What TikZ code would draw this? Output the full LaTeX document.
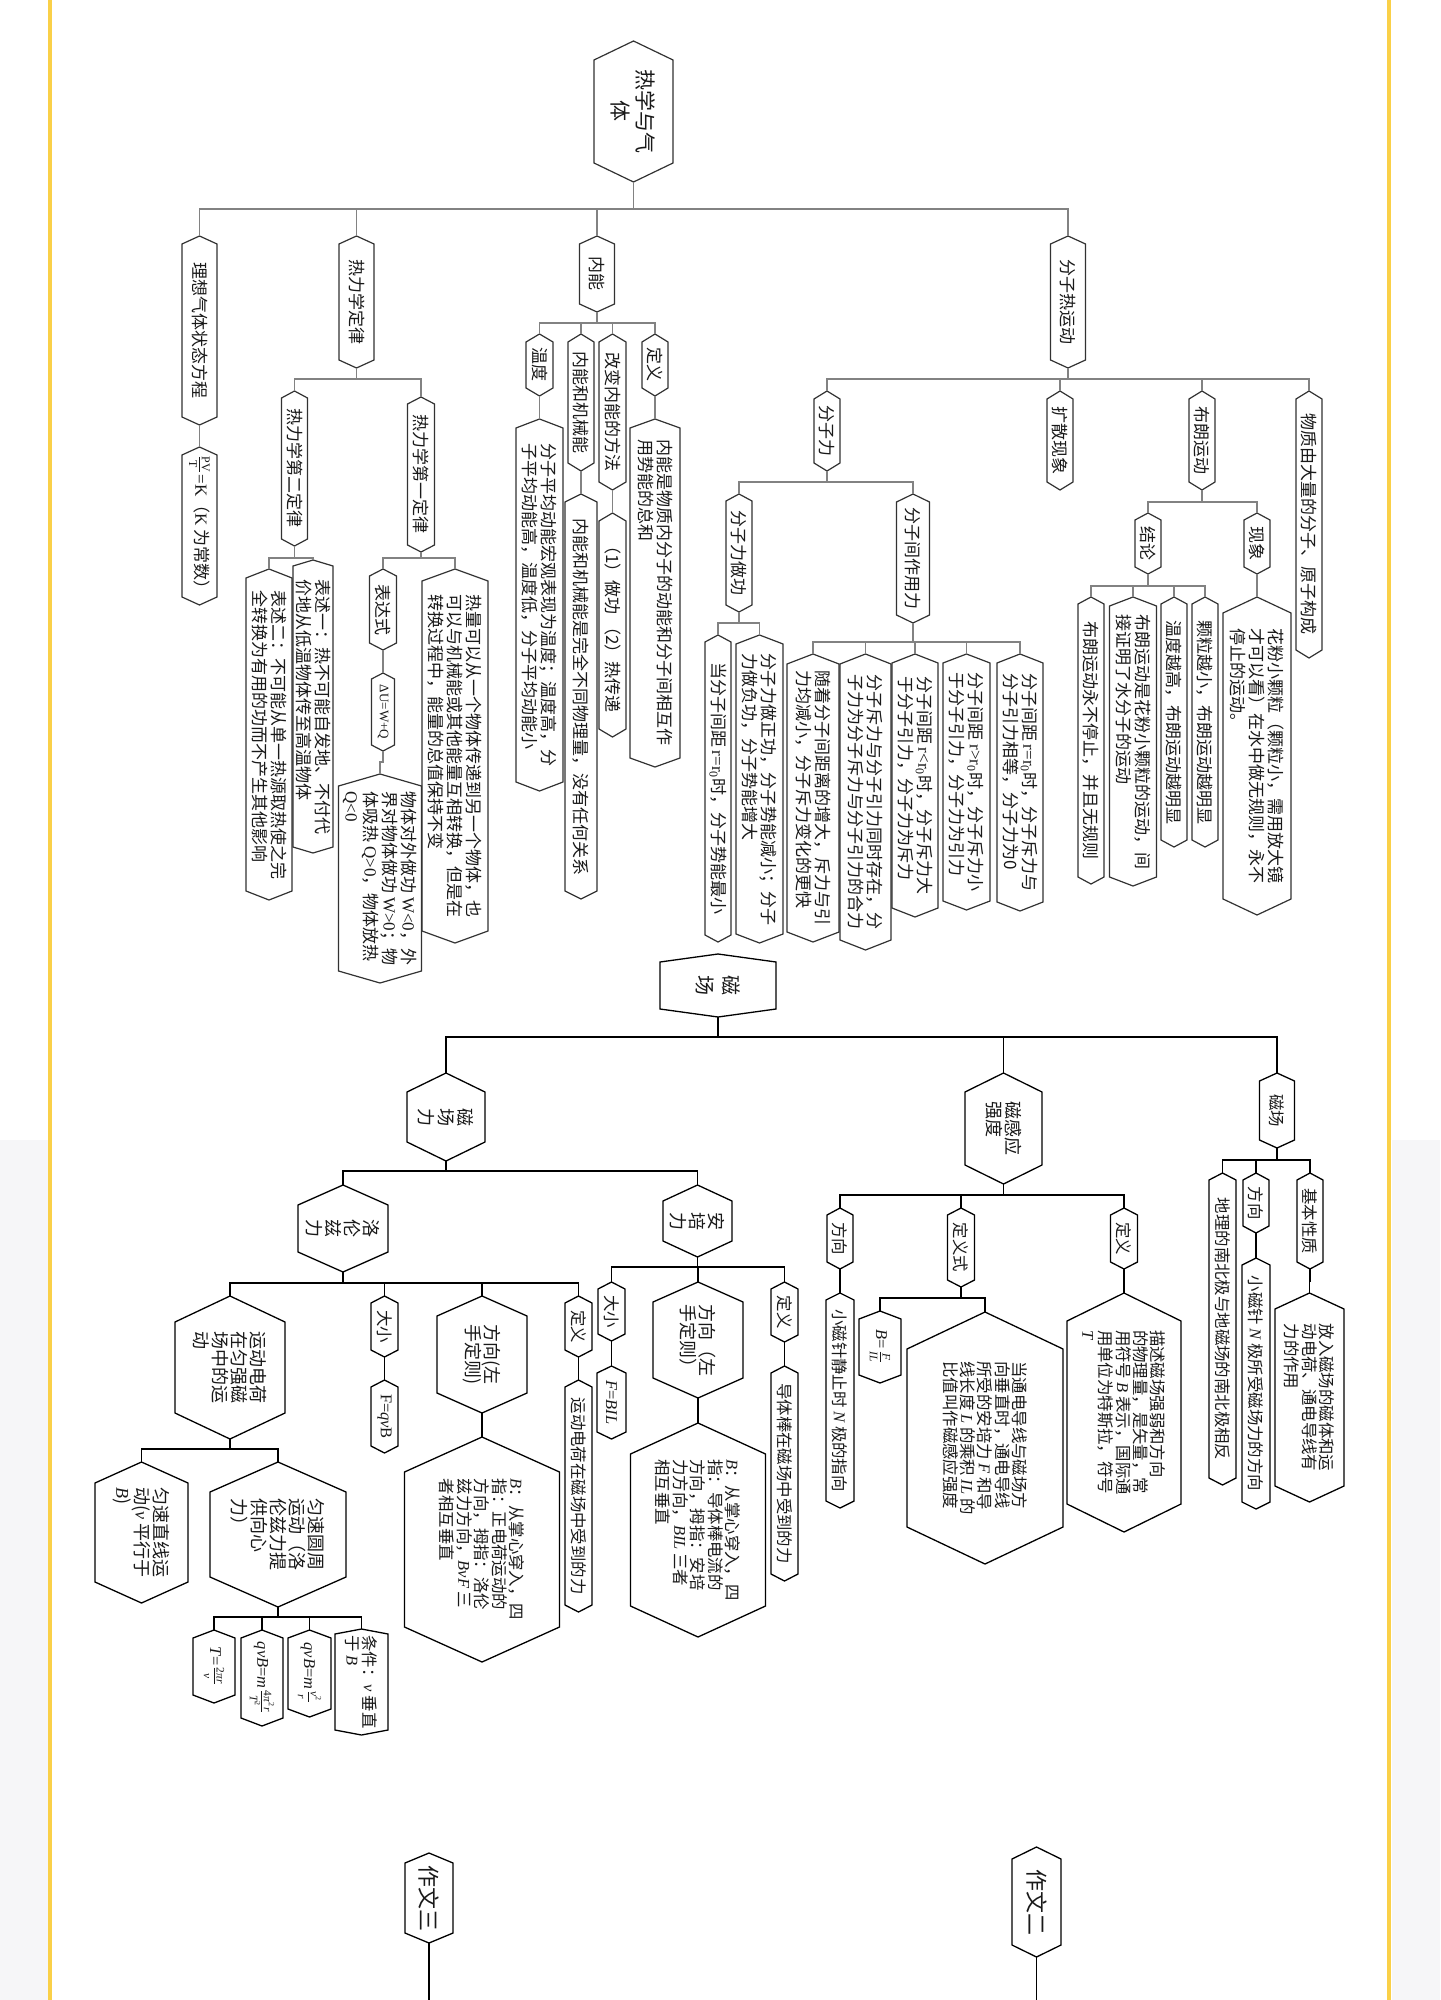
\documentclass[tikz,border=0pt]{standalone}
\usepackage{amsmath}
\usepackage[no-math]{fontspec}
\setmainfont{Noto Sans CJK SC}
\newfontfamily\tm{Liberation Serif}
\newcommand\vi[1]{{\tm\itshape #1}}
\newcommand\vr[1]{{\tm #1}}
\usetikzlibrary{calc}
\definecolor{ylw}{RGB}{250,208,72}
\definecolor{sidegrey}{RGB}{246,246,248}
\definecolor{thline}{RGB}{130,130,130}
\definecolor{thhex}{RGB}{50,50,50}
\definecolor{txtc}{RGB}{25,25,25}
\tikzset{
  hexbox/.style={draw=none,inner sep=0pt,outer sep=0pt},
  txt/.style={rotate=-90,align=left,inner sep=0pt,text=txtc},
  thermtxt/.style={font=\fontsize{8.5}{9.5}\selectfont},
  smalltxt/.style={font=\tm\fontsize{6.5}{7}\selectfont},
  roottxt/.style={font=\fontsize{10.5}{12.5}\selectfont,align=center},
  magtxt/.style={font=\fontsize{8.2}{8.7}\selectfont},
  bigtxt/.style={font=\fontsize{9}{9.6}\selectfont},
  cctxt/.style={font=\fontsize{10}{13}\selectfont},
  zwtxt/.style={font=\fontsize{11}{12}\selectfont},
  hexline/.style={draw=thhex,line width=0.6pt,line join=miter},
  conn/.style={draw=thline,line width=0.55pt}
}
% name, cx, ytop, ybot, halfwidth, tip, textstyle, text
\newcommand\hexn[8]{%
  \node[hexbox,minimum width=#5 pt,minimum height={(#4-#3)*0.5pt}] (#1) at (#2,{(#3+#4)/2}) {};
  \draw[hexline] (#1.north) -- ($(#1.north east)+(0,#6)$) -- ($(#1.south east)+(0,-#6)$) -- (#1.south) -- ($(#1.south west)+(0,-#6)$) -- ($(#1.north west)+(0,#6)$) -- cycle;
  \node[txt,#7] (#1-t) at (#1.center) {#8};}
% parent, bus y, children
\newcommand\tree[3]{%
  \coordinate (#1bus) at (0,#2);
  \foreach \c in {#3}{\draw[conn] (#1.south) -- (#1.south |- #1bus) -| (\c.north);}}
\begin{document}
\begin{tikzpicture}[x=0.5pt,y=-0.5pt]
\useasboundingbox (0,0) rectangle (1440,2000);
\fill[white] (0,0) rectangle (1440,2000);
\fill[sidegrey] (0,1140) rectangle (48,2000);
\fill[sidegrey] (1392,1140) rectangle (1440,2000);
\fill[ylw] (48,0) rectangle (52,2000);
\fill[ylw] (1387,0) rectangle (1391,2000);

% ================= thermal part =================
\hexn{root}{633.5}{41}{182}{39.5}{19}{roottxt}{热学与气\\体}
\hexn{lx}{199.5}{236}{425}{17.5}{8}{thermtxt}{理想气体状态方程}
\hexn{pv}{199.5}{447}{605}{17.5}{8}{thermtxt}{$\frac{\text{\vr{PV}}}{\text{\vr{T}}}$\vr{=K}（\vr{K} 为常数）}
\hexn{rl}{356.5}{236}{368}{17.5}{8}{thermtxt}{热力学定律}
\hexn{nn}{597}{236}{312}{17.5}{8}{thermtxt}{内能}
\hexn{fz}{1068}{236}{368}{17.5}{8}{thermtxt}{分子热运动}

\hexn{rtwo}{294.5}{391}{546}{13}{7}{thermtxt}{热力学第二定律}
\hexn{rone}{421}{397}{552}{13.5}{7}{thermtxt}{热力学第一定律}
\hexn{bstwo}{269}{569}{900}{23}{9}{thermtxt}{表述二：不可能从单一热源取热使之完\\全转换为有用的功而不产生其他影响}
\hexn{bsone}{313}{560}{853}{20}{6}{thermtxt}{表述一：热不可能自发地、不付代\\价地从低温物体传至高温物体}
\hexn{bds}{383}{569}{650}{13.5}{7}{thermtxt}{表达式}
\hexn{du}{383}{673}{751}{11.5}{6}{smalltxt}{ΔU=W+Q}
\hexn{wq}{380}{774}{983}{41.5}{12}{thermtxt}{物体对外做功 \vr{W<0}，外\\界对物体做功 \vr{W>0}；物\\体吸热 \vr{Q>0}，物体放热\\\vr{Q<0}}
\hexn{rlone}{455}{569}{943}{33}{12}{thermtxt}{热量可以从一个物体传递到另一个物体，也\\可以与机械能或其他能量互相转换，但是在\\转换过程中，能量的总值保持不变}

\hexn{wd}{539.5}{334}{396}{13.5}{8}{thermtxt}{温度}
\hexn{jx}{581}{334}{471}{13}{8}{thermtxt}{内能和机械能}
\hexn{gb}{612.5}{334}{490}{13.5}{8}{thermtxt}{改变内能的方法}
\hexn{dy}{655}{334}{396}{13}{8}{thermtxt}{定义}
\hexn{wdt}{539.5}{419}{791}{23.5}{9}{thermtxt}{分子平均动能宏观表现为温度；温度高，分\\子平均动能高，温度低，分子平均动能小}
\hexn{jxt}{581}{494}{899}{16}{8}{thermtxt}{内能和机械能是完全不同物理量，没有任何关系}
\hexn{gbt}{612.5}{513}{737}{13.5}{8}{thermtxt}{（1）做功 （2）热传递}
\hexn{dyt}{655}{419}{767}{25}{9}{thermtxt}{内能是物质内分子的动能和分子间相互作\\用势能的总和}

\hexn{fzl}{827}{391}{471}{13}{8}{thermtxt}{分子力}
\hexn{ks}{1060}{391}{490}{13}{8}{thermtxt}{扩散现象}
\hexn{bl}{1202}{391}{490}{13}{8}{thermtxt}{布朗运动}
\hexn{wz}{1309}{391}{658}{13}{8}{thermtxt}{物质由大量的分子、原子构成}

\hexn{jl}{1148}{513}{574}{13}{7}{thermtxt}{结论}
\hexn{xx}{1257}{513}{574}{13}{7}{thermtxt}{现象}
\hexn{xxt}{1257}{597}{915}{34}{16}{thermtxt}{花粉小颗粒（颗粒小，需用放大镜\\才可以看）在水中做无规则，永不\\停止的运动。}
\hexn{jlone}{1091}{597}{884}{13}{7}{thermtxt}{布朗运动永不停止，并且无规则}
\hexn{jltwo}{1133}{597}{886}{23.5}{9}{thermtxt}{布朗运动是花粉小颗粒的运动，间\\接证明了水分子的运动}
\hexn{jlthree}{1174}{597}{847}{13}{7}{thermtxt}{温度越高，布朗运动越明显}
\hexn{jlfour}{1205}{597}{847}{13}{7}{thermtxt}{颗粒越小，布朗运动越明显}

\hexn{zg}{739}{494}{612}{13}{7}{thermtxt}{分子力做功}
\hexn{zy}{913}{494}{623}{16.5}{8}{thermtxt}{分子间作用力}
\hexn{zgone}{718}{635}{942}{13}{7}{thermtxt}{当分子间距 \vr{r=r\textsubscript{0}}时，分子势能最小}
\hexn{zgtwo}{759.5}{635}{943}{23.5}{9}{thermtxt}{分子力做正功，分子势能减小；分子\\力做负功，分子势能增大}
\hexn{zyone}{813}{654}{942}{26}{10}{thermtxt}{随着分子间距离的增大，斥力与引\\力均减小，分子斥力变化的更快}
\hexn{zytwo}{865.5}{654}{950}{25.5}{10}{thermtxt}{分子斥力与分子引力同时存在，分\\子力为分子斥力与分子引力的合力}
\hexn{zythree}{915}{654}{917}{23}{9}{thermtxt}{分子间距 \vr{r<r\textsubscript{0}}时，分子斥力大\\于分子引力，分子力为斥力}
\hexn{zyfour}{966.5}{654}{910}{23.5}{9}{thermtxt}{分子间距 \vr{r>r\textsubscript{0}}时，分子斥力小\\于分子引力，分子力为引力}
\hexn{zyfive}{1020}{654}{911}{23}{9}{thermtxt}{分子间距 \vr{r=r\textsubscript{0}}时，分子斥力与\\分子引力相等，分子力为0}

\tree{root}{209}{lx,rl,nn,fz}
\tree{lx}{436}{pv}
\tree{rl}{379}{rtwo,rone}
\tree{rtwo}{558}{bstwo,bsone}
\tree{rone}{558}{bds,rlone}
\tree{bds}{661}{du}
\tree{du}{762}{wq}
\tree{nn}{323}{wd,jx,gb,dy}
\tree{wd}{407}{wdt}
\tree{jx}{483}{jxt}
\tree{gb}{501}{gbt}
\tree{dy}{407}{dyt}
\tree{fz}{379}{fzl,ks,bl,wz}
\tree{bl}{502}{jl,xx}
\tree{xx}{586}{xxt}
\tree{jl}{586}{jlone,jltwo,jlthree,jlfour}
\tree{fzl}{482}{zg,zy}
\tree{zg}{623}{zgone,zgtwo}
\tree{zy}{642}{zyone,zytwo,zythree,zyfour,zyfive}

% ================= magnetic part =================
\tikzset{hexline/.style={draw=black,line width=0.65pt,line join=miter},
         conn/.style={draw=black,line width=0.65pt}}
\hexn{cc}{718}{954}{1017}{58}{8}{cctxt}{磁\\场}
\hexn{ccl}{446}{1073}{1161}{39}{19}{bigtxt}{磁\\场\\力}
\hexn{cgq}{1003.5}{1073}{1184}{38.5}{19}{bigtxt}{磁感应\\强度}
\hexn{ccs}{1277}{1073}{1148}{17.5}{8}{magtxt}{磁场}

\hexn{lz}{343}{1185}{1272}{45}{20}{bigtxt}{洛\\伦\\兹\\力}
\hexn{ap}{697.5}{1185}{1257}{34.5}{16}{bigtxt}{安\\培\\力}

\hexn{yd}{230}{1296}{1439}{55}{26}{bigtxt}{运动电荷\\在匀强磁\\场中的运\\动}
\hexn{dx}{384.5}{1296}{1357}{13.5}{7}{magtxt}{大小}
\hexn{dxt}{384.5}{1380}{1453}{13.5}{7}{magtxt}{\vr{F=}\vi{qv}\vr{B}}
\hexn{fx}{482}{1296}{1413}{45}{20}{bigtxt}{方向(左\\手定则)}
\hexn{fxt}{482}{1437}{1662}{77.5}{35}{magtxt}{\vi{B}：从掌心穿入，四\\指：正电荷运动的\\方向，拇指：洛伦\\兹力方向，\vi{BvF} 三\\者相互垂直}
\hexn{ldy}{578.5}{1296}{1357}{13.5}{7}{magtxt}{定义}
\hexn{ldyt}{578.5}{1380}{1612}{13.5}{7}{magtxt}{运动电荷在磁场中受到的力}

\hexn{ys}{141.5}{1462}{1603}{46.5}{21}{bigtxt}{匀速直线运\\动(\vi{v} 平行于\\\vi{B})}
\hexn{yy}{278}{1462}{1607}{68}{30}{bigtxt}{匀速圆周\\运动（洛\\伦兹力提\\供向心\\力）}
\hexn{tone}{214}{1630}{1703}{21}{8}{magtxt}{\vi{T}\vr{=}$\frac{\text{\vr{2}\vi{πr}}}{\text{\vi{v}}}$}
\hexn{ttwo}{262}{1630}{1726}{21}{8}{magtxt}{\vi{qvB}\vr{=}\vi{m}$\frac{\text{\vr{4}\vi{π}\textsuperscript{\vr{2}}\vi{r}}}{\text{\vi{T}\textsuperscript{\vr{2}}}}$}
\hexn{tthree}{309.5}{1630}{1717}{21.5}{8}{magtxt}{\vi{qvB}\vr{=}\vi{m}$\frac{\text{\vi{v}\textsuperscript{\vr{2}}}}{\text{\vi{r}}}$}
\hexn{tfour}{361.5}{1629}{1735}{26.5}{5}{magtxt}{条件：\vi{v} 垂直\\于 \vi{B}}

\hexn{adx}{611.5}{1282}{1341}{13.5}{7}{magtxt}{大小}
\hexn{adxt}{611.5}{1366}{1439}{14.5}{7}{magtxt}{\vi{F}\vr{=}\vi{BIL}}
\hexn{afx}{698}{1282}{1398}{45}{20}{bigtxt}{方向（左\\手定则）}
\hexn{afxt}{698}{1423}{1637}{67.5}{31}{magtxt}{\vi{B}：从掌心穿入，四\\指：导体棒电流的\\方向，拇指：安培\\力方向，\vi{BIL} 三者\\相互垂直}
\hexn{ady}{784.5}{1282}{1342}{13.5}{7}{magtxt}{定义}
\hexn{adyt}{784.5}{1366}{1581}{13.5}{7}{magtxt}{导体棒在磁场中受到的力}

\hexn{gfx}{840}{1208}{1269}{13}{7}{magtxt}{方向}
\hexn{gfxt}{840}{1293}{1508}{14}{7}{magtxt}{小磁针静止时 \vi{N} 极的指向}
\hexn{gdyz}{961}{1208}{1287}{13.5}{7}{magtxt}{定义式}
\hexn{gdy}{1124}{1208}{1269}{13.5}{7}{magtxt}{定义}
\hexn{gdyt}{1124}{1293}{1532}{57}{28}{magtxt}{描述磁场强弱和方向\\的物理量，是矢量，常\\用符号 \vi{B} 表示，国际通\\用单位为特斯拉，符号\\\vi{T}}
\hexn{bf}{880}{1311}{1383}{21}{8}{magtxt}{\vi{B}\vr{=}$\frac{\text{\vi{F}}}{\text{\vi{IL}}}$}
\hexn{gdzt}{985}{1312}{1564}{78}{37}{magtxt}{当通电导线与磁场方\\向垂直时，通电导线\\所受的安培力 \vi{F} 和导\\线长度 \vi{L} 的乘积 \vi{IL} 的\\比值叫作磁感应强度}

\hexn{csone}{1222.5}{1173}{1485}{13.5}{7}{magtxt}{地理的南北极与地磁场的南北极相反}
\hexn{cstwo}{1256}{1173}{1233}{13}{7}{magtxt}{方向}
\hexn{cstwot}{1256}{1258}{1509}{14}{7}{magtxt}{小磁针 \vi{N} 极所受磁场力的方向}
\hexn{csthree}{1310}{1173}{1269}{13}{7}{magtxt}{基本性质}
\hexn{csthreet}{1309.5}{1293}{1502}{34.5}{16}{magtxt}{放入磁场的磁体和运\\动电荷、通电导线有\\力的作用}

\hexn{zwthree}{429}{1853}{1943}{24}{10}{zwtxt}{作文三}
\hexn{zwtwo}{1036.5}{1847}{1957}{24.5}{12}{zwtxt}{作文二}
\coordinate (zwthreeend) at (429,2000);
\coordinate (zwtwoend) at (1036.5,2000);

\tree{cc}{1037}{ccl,cgq,ccs}
\tree{ccl}{1171}{lz,ap}
\tree{lz}{1283}{yd,dx,fx,ldy}
\tree{dx}{1368}{dxt}
\tree{fx}{1425}{fxt}
\tree{ldy}{1368}{ldyt}
\tree{yd}{1449}{ys,yy}
\tree{yy}{1617}{tone,ttwo,tthree,tfour}
\tree{ap}{1267}{adx,afx,ady}
\tree{adx}{1353}{adxt}
\tree{afx}{1410}{afxt}
\tree{ady}{1354}{adyt}
\tree{cgq}{1195}{gfx,gdyz,gdy}
\tree{gfx}{1281}{gfxt}
\tree{gdy}{1281}{gdyt}
\tree{gdyz}{1298}{bf,gdzt}
\tree{ccs}{1160}{csone,cstwo,csthree}
\tree{cstwo}{1245}{cstwot}
\tree{csthree}{1281}{csthreet}
\draw[conn] (zwthree.south) -- (zwthreeend);
\draw[conn] (zwtwo.south) -- (zwtwoend);
\end{tikzpicture}
\end{document}
